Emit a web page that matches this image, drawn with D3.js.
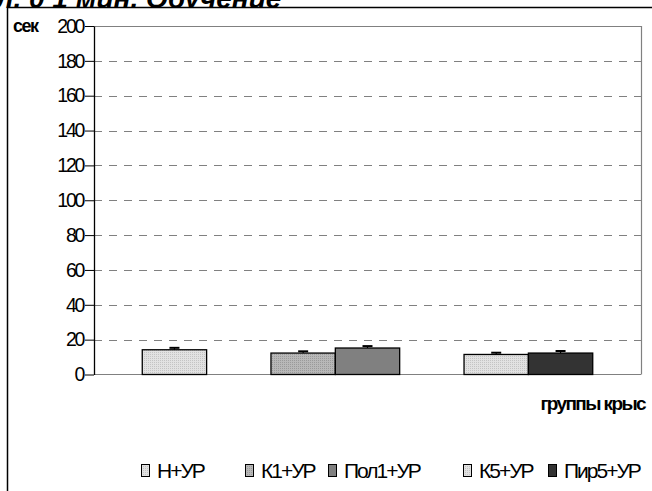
<!DOCTYPE html>
<html><head><meta charset="utf-8">
<script src="https://cdn.jsdelivr.net/npm/d3@7"></script>
<style>body{margin:0;background:#fff}svg{display:block}text{font-family:Arial,"Liberation Sans",sans-serif}</style>
</head><body><svg id="c" width="652" height="491"></svg>
<script>
const seriesNames = ["Н+УР","К1+УР","Пол1+УР","К5+УР","Пир5+УР"];
const seriesSlots = [0, 2, 3, 5, 6];
const values = [14.2, 12.3, 15.2, 11.5, 12.3];
const errors = [1.1, 1.0, 1.1, 1.0, 1.2];
const yTicks = [0,20,40,60,80,100,120,140,160,180,200];
const slotCount = 7;
const fills = ["url(#pLight)","url(#pMid)","#808080","url(#pLight)","#333333"];

const svg = d3.select("#c");
const defs = svg.append("defs");
function dotPattern(id, bg, dot){
  const p = defs.append("pattern").attr("id",id).attr("width",2).attr("height",2).attr("patternUnits","userSpaceOnUse");
  p.append("rect").attr("width",2).attr("height",2).attr("fill",bg);
  p.append("rect").attr("width",1).attr("height",1).attr("fill",dot);
}
dotPattern("pLight","#e2e2e2","#c4c4c4");
dotPattern("pMid","#b8b8b8","#9a9a9a");

// title (clipped at top, as in the source)
svg.append("text").attr("x",-4).attr("y",8).attr("font-family","'Liberation Serif','Times New Roman',serif")
  .attr("font-weight","bold").attr("font-style","italic").attr("font-size",28).text("л. 0 1 мин. Обучение");
svg.append("rect").attr("x",0).attr("y",8).attr("width",652).attr("height",483).attr("fill","#fff");
svg.append("line").attr("x1",7.5).attr("x2",652).attr("y1",7.5).attr("y2",7.5).attr("stroke","#000").attr("stroke-width",1.5);
svg.append("line").attr("x1",7.5).attr("x2",7.5).attr("y1",7.5).attr("y2",491).attr("stroke","#000").attr("stroke-width",1.5);

const L=94, R=641, T=26, B=374.5;
const y = d3.scaleLinear().domain([0,200]).range([B,T]);
const x = d3.scaleBand().domain(d3.range(slotCount)).range([L,R]).paddingInner(0).paddingOuter(0.75);

svg.append("g").selectAll("line").data(yTicks.filter(t=>t>0 && t<200)).join("line")
  .attr("x1",L).attr("x2",R).attr("y1",d=>Math.round(y(d))+0.5).attr("y2",d=>Math.round(y(d))+0.5)
  .attr("stroke","#808080").attr("stroke-dasharray","8,7");
svg.append("path").attr("d",`M${L},${Math.round(T)+0.5}H${R+0.5}V${B}`).attr("fill","none").attr("stroke","#808080").attr("stroke-width",1.2);
svg.append("line").attr("x1",L).attr("x2",R).attr("y1",B).attr("y2",B).attr("stroke","#808080").attr("stroke-width",1.2);

const data = seriesNames.map((n,i)=>({n, slot:seriesSlots[i], v:values[i], e:errors[i], f:fills[i]}));
svg.append("g").selectAll("rect").data(data).join("rect")
  .attr("x",d=>x(d.slot)).attr("width",x.bandwidth()).attr("y",d=>y(d.v)).attr("height",d=>y(0)-y(d.v))
  .attr("fill",d=>d.f).attr("stroke","#000").attr("stroke-width",1.3);
const eb = svg.append("g");
eb.selectAll("line.s").data(data).join("line").attr("class","s")
  .attr("x1",d=>x(d.slot)+x.bandwidth()/2).attr("x2",d=>x(d.slot)+x.bandwidth()/2)
  .attr("y1",d=>y(d.v)).attr("y2",d=>y(d.v+d.e)).attr("stroke","#000").attr("stroke-width",1.2);
eb.selectAll("line.c").data(data).join("line").attr("class","c")
  .attr("x1",d=>x(d.slot)+x.bandwidth()/2-5).attr("x2",d=>x(d.slot)+x.bandwidth()/2+5)
  .attr("y1",d=>y(d.v+d.e)).attr("y2",d=>y(d.v+d.e)).attr("stroke","#000").attr("stroke-width",2);

const ya = svg.append("g").attr("transform",`translate(${L},0)`)
  .call(d3.axisLeft(y).tickValues(yTicks).tickSize(9).tickPadding(2).tickSizeOuter(0));
ya.select(".domain").attr("stroke","#000").attr("stroke-width",1.3);
ya.selectAll(".tick line").attr("stroke","#000");
ya.selectAll(".tick text").attr("font-size",19.5).attr("fill","#000").attr("letter-spacing",-2.3)
  .attr("font-family","Arial,'Liberation Sans',sans-serif");

svg.append("text").attr("x",13).attr("y",32).attr("font-size",18).attr("font-weight","bold").attr("letter-spacing",-1.5).text("сек");
svg.append("text").attr("x",645).attr("y",410).attr("text-anchor","end").attr("font-size",19).attr("font-weight","bold")
  .attr("letter-spacing",-1.6).text("группы крыс");

const legX = [141, 245, 328, 463, 548];
const lg = svg.append("g").selectAll("g").data(data).join("g").attr("transform",(d,i)=>`translate(${legX[i]},0)`);
lg.append("rect").attr("x",0.5).attr("y",464.5).attr("width",8).attr("height",12).attr("fill",d=>d.f).attr("stroke","#000");
lg.append("text").attr("x",16).attr("y",478).attr("font-size",21).attr("letter-spacing",-2).text(d=>d.n);
</script></body></html>
